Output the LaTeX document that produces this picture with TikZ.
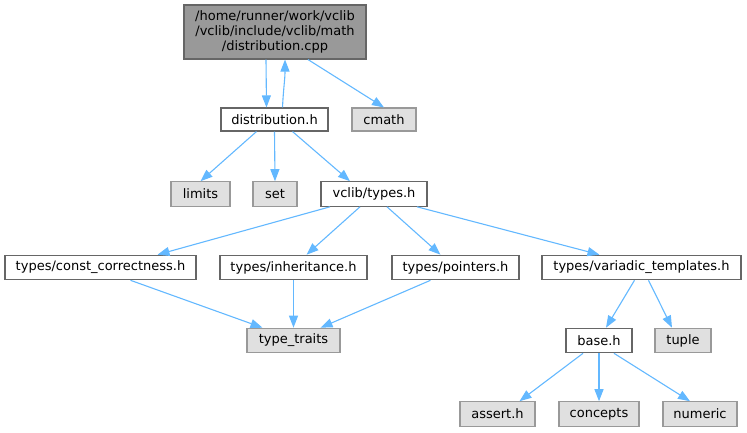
\documentclass[tikz,border=0pt]{standalone}
\usepackage{fontspec}
\setmainfont{DejaVu Sans}
\usetikzlibrary{arrows.meta}
\definecolor{edgec}{HTML}{63B8FF}
\definecolor{rootfill}{HTML}{999999}
\definecolor{darkb}{HTML}{666666}
\definecolor{sysfill}{HTML}{E0E0E0}
\definecolor{sysb}{HTML}{999999}
\begin{document}
\begin{tikzpicture}[x=1pt,y=-1pt,
  base/.style={draw, line width=1.1pt, inner sep=0pt, minimum height=24.5pt, font=\fontsize{13pt}{15pt}\selectfont, align=center},
  filebox/.style={base, draw=darkb, fill=white},
  sysbox/.style={base, draw=sysb, fill=sysfill},
  rootbox/.style={base, draw=darkb, fill=rootfill},
  edge/.style={draw=edgec, line width=1.1pt, -{Triangle[length=12pt,width=9pt]}}
]
\useasboundingbox (0,0) rectangle (747,432);
\node[rootbox, minimum width=182pt, minimum height=54pt] (root) at (275,32) {/home/runner/work/vclib\\/vclib/include/vclib/math\\/distribution.cpp};
\node[filebox, minimum width=107pt, minimum height=23pt] (dist) at (274.5,119.5) {distribution.h};
\node[sysbox, minimum width=64pt, minimum height=23pt] (cmath) at (384,119.5) {cmath};
\node[sysbox, minimum width=59pt] (limits) at (200.5,194) {limits};
\node[sysbox, minimum width=44pt] (set) at (275,194) {set};
\node[filebox, minimum width=106pt] (types) at (374,194) {vclib/types.h};
\node[filebox, minimum width=191pt] (cc) at (100.5,267.5) {types/const\_correctness.h};
\node[filebox, minimum width=147pt] (inh) at (293.5,267.5) {types/inheritance.h};
\node[filebox, minimum width=127pt] (ptr) at (455.5,267.5) {types/pointers.h};
\node[filebox, minimum width=199pt] (var) at (641.5,267.5) {types/variadic\_templates.h};
\node[sysbox, minimum width=93pt] (tt) at (293.5,340.5) {type\_traits};
\node[filebox, minimum width=66pt] (baseh) at (599,340.5) {base.h};
\node[sysbox, minimum width=56pt] (tuple) at (683,340.5) {tuple};
\node[sysbox, minimum width=75pt] (assert) at (497.5,414) {assert.h};
\node[sysbox, minimum width=80pt] (concepts) at (599,414) {concepts};
\node[sysbox, minimum width=74pt] (numeric) at (700,414) {numeric};

\draw[edge] ([xshift=-9pt]root.south) -- ([xshift=-8pt]dist.north);
\draw[edge] ([xshift=8pt]dist.north) .. controls +(1,-20) and +(0,20) .. ([xshift=10pt]root.south);
\draw[edge] ([xshift=33pt]root.south) -- (cmath.north);
\draw[edge] ([xshift=-18pt]dist.south) -- (limits.north);
\draw[edge] (dist.south) -- (set.north);
\draw[edge] ([xshift=18pt]dist.south) -- ([xshift=-24pt]types.north);
\draw[edge] ([xshift=-44pt]types.south) -- ([xshift=57pt]cc.north);
\draw[edge] ([xshift=-14pt]types.south) -- ([xshift=13pt]inh.north);
\draw[edge] ([xshift=13pt]types.south) -- ([xshift=-15pt]ptr.north);
\draw[edge] ([xshift=43pt]types.south) -- ([xshift=-42pt]var.north);
\draw[edge] ([xshift=30pt]cc.south) -- ([xshift=-31pt]tt.north);
\draw[edge] (inh.south) -- (tt.north);
\draw[edge] ([xshift=-25pt]ptr.south) -- ([xshift=27pt]tt.north);
\draw[edge] ([xshift=-7pt]var.south) -- ([xshift=7pt]baseh.north);
\draw[edge] ([xshift=7pt]var.south) -- ([xshift=-11pt]tuple.north);
\draw[edge] ([xshift=-16pt]baseh.south) -- ([xshift=22pt]assert.north);
\draw[edge] (baseh.south) -- (concepts.north);
\draw[edge] ([xshift=15pt]baseh.south) -- ([xshift=-10pt]numeric.north);
\end{tikzpicture}
\end{document}
